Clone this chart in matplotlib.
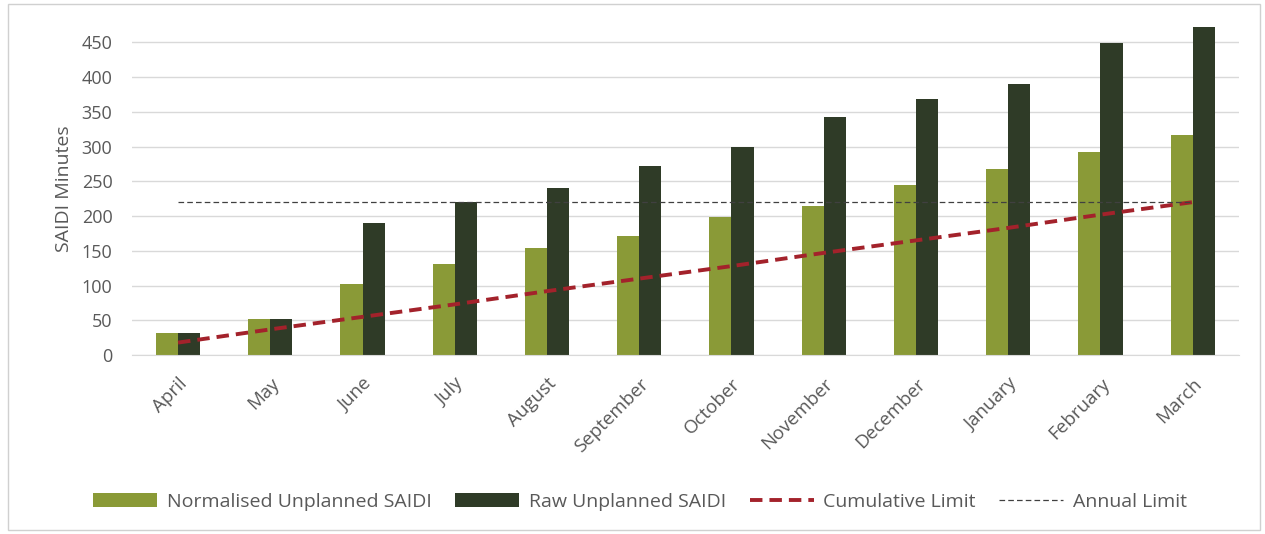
import matplotlib.pyplot as plt
import numpy as np
from matplotlib.patches import Rectangle

months = ['April', 'May', 'June', 'July', 'August', 'September', 'October',
          'November', 'December', 'January', 'February', 'March']
normalised = [32, 52, 102, 131, 154, 172, 198, 215, 244, 267, 292, 316]
raw = [32, 52, 190, 220, 241, 272, 300, 342, 369, 390, 449, 472]
cumulative_limit = [18, 37, 55, 73, 92, 110, 128, 147, 165, 183, 202, 220]
annual_limit = [220] * 12

plt.rcParams['font.family'] = ['Open Sans', 'DejaVu Sans']

fig = plt.figure(figsize=(12.65, 5.34), dpi=100)
ax = fig.add_axes([0.1043, 0.335, 0.875, 0.625])

x = np.arange(len(months))
w = 0.24
b1 = ax.bar(x - w / 2, normalised, w, color='#8a9a37', label='Normalised Unplanned SAIDI', zorder=2)
b2 = ax.bar(x + w / 2, raw, w, color='#2f3b27', label='Raw Unplanned SAIDI', zorder=2)
l1, = ax.plot(x, cumulative_limit, color='#a3222b', lw=2.8, dashes=(3.2, 1.8),
              label='Cumulative Limit', zorder=3)
l2, = ax.plot(x, annual_limit, color='#404040', lw=0.9, dashes=(4.5, 2.5),
              label='Annual Limit', zorder=3)

ax.set_xlim(-0.5, 11.5)
ax.set_ylim(0, 480)
ax.set_yticks(range(0, 451, 50))
ax.grid(axis='y', color='#d9d9d9', lw=1, zorder=0)
for s in ['top', 'right', 'left']:
    ax.spines[s].set_visible(False)
ax.spines['bottom'].set_color('#d9d9d9')
ax.tick_params(length=0, colors='#595959')
ax.tick_params(axis='y', pad=14, labelsize=13)
ax.set_xticks(x)
ax.set_xticklabels(months, rotation=45, ha='right', rotation_mode='anchor')
ax.tick_params(axis='x', pad=14, labelsize=13.5)
ax.set_ylabel('SAIDI Minutes', color='#595959', fontsize=14, labelpad=6)

fig.legend([b1, b2, l1, l2], [h.get_label() for h in (b1, b2, l1, l2)],
           loc='center', bbox_to_anchor=(0.506, 0.06), ncol=4, frameon=False,
           fontsize=14, labelcolor='#595959', handlelength=3.3, handleheight=0.72,
           columnspacing=1.2, handletextpad=0.5)

# light border round the chart area
fig.patches.append(Rectangle((0.006, 0.008), 0.99, 0.985, transform=fig.transFigure,
                             fill=False, edgecolor='#d0d0d0', lw=1))

fig.savefig('out.png', dpi=100)
